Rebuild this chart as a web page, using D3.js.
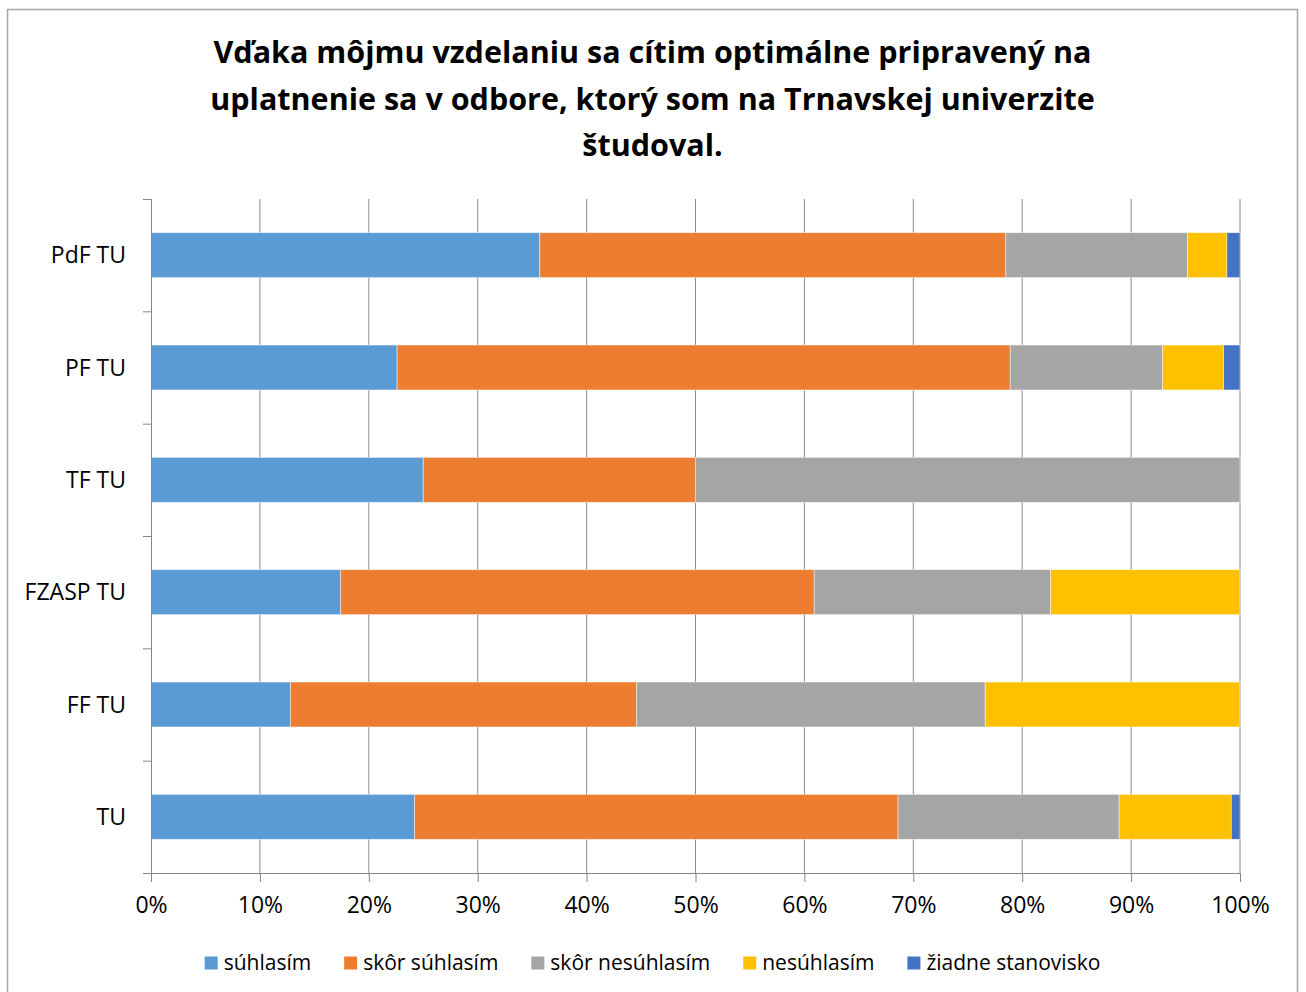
<!DOCTYPE html>
<html>
<head>
<meta charset="utf-8">
<script src="https://cdn.jsdelivr.net/npm/d3@7"></script>
<style>
body { margin: 0; background: #fff; }
text { font-family: "Open Sans", "DejaVu Sans", sans-serif; fill: #000; }
</style>
</head>
<body>
<div id="container"></div>
<script>
var CATEGORIES = ["PdF TU", "PF TU", "TF TU", "FZASP TU", "FF TU", "TU"];
var SERIES = ["súhlasím", "skôr súhlasím", "skôr nesúhlasím", "nesúhlasím", "žiadne stanovisko"];
var SUHLASIM = [35.7, 22.6, 25.0, 17.4, 12.8, 24.2];
var SKOR_SUHLASIM = [42.8, 56.3, 25.0, 43.5, 31.8, 44.4];
var SKOR_NESUHLASIM = [16.7, 14.0, 50.0, 21.7, 32.0, 20.3];
var NESUHLASIM = [3.6, 5.6, 0, 17.4, 23.4, 10.3];
var ZIADNE = [1.2, 1.5, 0, 0, 0, 0.8];
var TICKS = [0, 10, 20, 30, 40, 50, 60, 70, 80, 90, 100];
var TITLE = ["Vďaka môjmu vzdelaniu sa cítim optimálne pripravený na",
	     "uplatnenie sa v odbore, ktorý som na Trnavskej univerzite",
	     "študoval."];

var COLORS = ["#5b9bd5", "#ed7d31", "#a5a5a5", "#ffc000", "#4472c4"];

var WIDTH = 1306, HEIGHT = 992;
var PLOT = { left: 151, right: 1240, top: 199, bottom: 873 };

var svg = d3.select("#container").append("svg")
    .attr("width", WIDTH)
    .attr("height", HEIGHT);

// chart frame
svg.append("rect")
    .attr("x", 7.5).attr("y", 9.5)
    .attr("width", 1290).attr("height", 1000)
    .attr("fill", "#fff")
    .attr("stroke", "#a6a6a6")
    .attr("stroke-width", 1.5);

var rows = CATEGORIES.map(function(c, i){
    return { cat: c, "súhlasím": SUHLASIM[i], "skôr súhlasím": SKOR_SUHLASIM[i],
	     "skôr nesúhlasím": SKOR_NESUHLASIM[i], "nesúhlasím": NESUHLASIM[i],
	     "žiadne stanovisko": ZIADNE[i] };
});

var x = d3.scaleLinear().domain([0, 100]).range([PLOT.left, PLOT.right]);
var y = d3.scaleBand().domain(CATEGORIES).range([PLOT.top, PLOT.bottom])
    .paddingInner(0.6).paddingOuter(0.3);
var yTicks = d3.scaleBand().domain(CATEGORIES).range([PLOT.top, PLOT.bottom]);

// gridlines
svg.append("g").selectAll("line")
    .data(TICKS.slice(1))
    .enter().append("line")
    .attr("x1", function(d){ return x(d); })
    .attr("x2", function(d){ return x(d); })
    .attr("y1", PLOT.top).attr("y2", PLOT.bottom)
    .attr("stroke", "#8c8c8c")
    .attr("stroke-width", 1);

// bars
var stack = d3.stack().keys(SERIES)(rows);
svg.append("g").selectAll("g")
    .data(stack)
    .enter().append("g")
    .attr("fill", function(_, i){ return COLORS[i]; })
    .selectAll("rect")
    .data(function(d){ return d.filter(function(p){ return p[1] - p[0] > 0; }); })
    .enter().append("rect")
    .attr("x", function(d){ return x(d[0]); })
    .attr("width", function(d){ return x(d[1]) - x(d[0]); })
    .attr("y", function(d){ return y(d.data.cat); })
    .attr("height", y.bandwidth())
    .attr("stroke", "#fff")
    .attr("stroke-opacity", 0.6)
    .attr("stroke-width", 0.75);

// x axis
var xAxis = svg.append("g")
    .attr("transform", "translate(0," + PLOT.bottom + ")")
    .call(d3.axisBottom(x).tickValues(TICKS).tickSize(9).tickPadding(15)
	  .tickFormat(function(d){ return d + "%"; }));
xAxis.select(".domain").attr("stroke", "#868686").attr("d", "M" + (PLOT.left - 8) + ",0.5H" + PLOT.right);
xAxis.selectAll(".tick line").attr("stroke", "#868686");
xAxis.selectAll("text").style("font-size", "23px").attr("fill", "#000");

// y axis with ticks between categories
var yg = svg.append("g");
yg.append("line")
    .attr("x1", PLOT.left + 0.5).attr("x2", PLOT.left + 0.5)
    .attr("y1", PLOT.top).attr("y2", PLOT.bottom)
    .attr("stroke", "#868686");
yg.selectAll("line.tk")
    .data(CATEGORIES)
    .enter().append("line")
    .classed("tk", true)
    .attr("x1", PLOT.left - 8).attr("x2", PLOT.left)
    .attr("y1", function(d){ return yTicks(d) + 0.5; })
    .attr("y2", function(d){ return yTicks(d) + 0.5; })
    .attr("stroke", "#868686");
yg.selectAll("text")
    .data(CATEGORIES)
    .enter().append("text")
    .attr("x", PLOT.left - 25)
    .attr("y", function(d){ return y(d) + y.bandwidth() / 2; })
    .attr("dy", "0.35em")
    .attr("text-anchor", "end")
    .style("font-size", "23px")
    .text(function(d){ return d; });

// title
svg.append("g").selectAll("text")
    .data(TITLE)
    .enter().append("text")
    .attr("x", 652.5)
    .attr("y", function(_, i){ return 63 + i * 46.5; })
    .attr("text-anchor", "middle")
    .style("font-size", "30.5px")
    .style("font-weight", "bold")
    .text(function(d){ return d; });

// legend
var leg = svg.append("g");
var items = leg.selectAll("g")
    .data(SERIES)
    .enter().append("g");
items.append("rect")
    .attr("width", 13).attr("height", 13)
    .attr("y", -6.5)
    .attr("fill", function(_, i){ return COLORS[i]; });
items.append("text")
    .attr("x", 19)
    .attr("dy", "0.35em")
    .style("font-size", "21px")
    .text(function(d){ return d; });

var pos = 0;
items.each(function(){
    var w = d3.select(this).select("text").node().getComputedTextLength();
    d3.select(this).attr("data-x", pos);
    pos += 19 + w + 33;
});
var total = pos - 33;
var start = 652.5 - total / 2;
items.attr("transform", function(){
    return "translate(" + (start + Number(d3.select(this).attr("data-x"))) + ",963)";
});
</script>
</body>
</html>
